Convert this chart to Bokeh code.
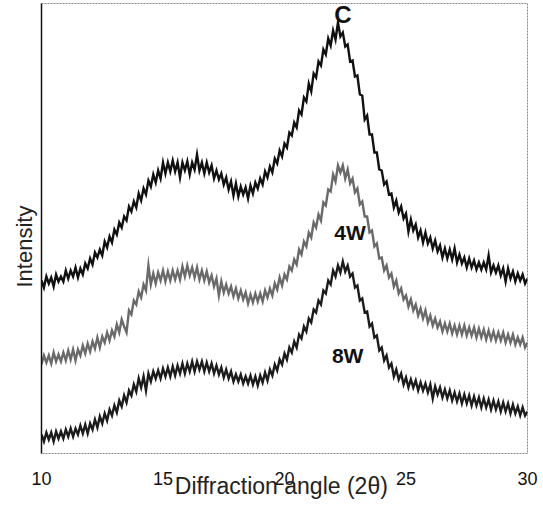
from bokeh.plotting import figure
from bokeh.models import Range1d, FixedTicker, Title
from bokeh.core.properties import value
from bokeh.embed import file_html
from bokeh.resources import INLINE

# 2-theta grid: 10.0 .. 30.0 in 0.1 degree steps
two_theta = [round(10 + 0.1 * i, 1) for i in range(201)]

# Intensity (arbitrary units, traces offset vertically)
intensity_c = [
    173, 166, 177, 170, 176, 167, 179, 172, 177, 172,
    183, 175, 183, 177, 186, 176, 185, 179, 190, 185,
    195, 189, 201, 196, 204, 198, 212, 206, 217, 211,
    224, 219, 231, 226, 237, 233, 247, 242, 252, 246,
    260, 253, 265, 259, 273, 267, 279, 271, 283, 275,
    291, 280, 291, 282, 293, 282, 291, 276, 291, 283,
    292, 279, 291, 284, 299, 283, 291, 280, 291, 281,
    288, 275, 283, 274, 280, 269, 276, 264, 272, 258,
    270, 257, 267, 259, 266, 255, 268, 260, 271, 265,
    275, 269, 282, 276, 287, 281, 295, 290, 303, 297,
    310, 306, 321, 318, 331, 326, 343, 339, 356, 352,
    370, 362, 380, 376, 392, 388, 404, 399, 415, 408,
    423, 414, 431, 417, 421, 407, 409, 392, 393, 377,
    378, 359, 358, 334, 338, 319, 319, 301, 301, 284,
    283, 269, 272, 259, 260, 246, 253, 241, 247, 235,
    240, 222, 234, 223, 229, 216, 223, 211, 221, 210,
    216, 205, 213, 202, 208, 196, 205, 195, 204, 194,
    205, 191, 199, 190, 196, 186, 195, 186, 193, 184,
    191, 184, 191, 184, 198, 181, 188, 181, 188, 178,
    185, 172, 185, 175, 182, 172, 180, 173, 179, 170,
    175,
]

intensity_4w = [
    89, 98, 91, 98, 90, 101, 92, 99, 92, 101,
    93, 103, 94, 104, 93, 104, 98, 108, 100, 110,
    102, 112, 105, 116, 106, 117, 111, 121, 113, 123,
    117, 129, 121, 134, 127, 121, 143, 139, 153, 149,
    162, 156, 169, 163, 188, 169, 180, 170, 181, 173,
    183, 172, 182, 173, 183, 174, 183, 174, 187, 177,
    188, 178, 186, 176, 186, 174, 183, 173, 182, 171,
    178, 167, 175, 158, 172, 161, 169, 160, 167, 157,
    165, 155, 163, 154, 161, 150, 159, 151, 160, 152,
    160, 152, 163, 156, 165, 158, 170, 164, 176, 168,
    179, 174, 187, 183, 194, 189, 204, 199, 212, 207,
    221, 216, 231, 226, 239, 233, 251, 248, 264, 262,
    279, 272, 288, 281, 288, 275, 284, 270, 275, 261,
    265, 249, 252, 237, 237, 221, 223, 207, 210, 195,
    196, 183, 188, 176, 180, 167, 173, 160, 165, 154,
    158, 147, 154, 143, 149, 138, 145, 135, 143, 131,
    138, 128, 135, 126, 132, 122, 130, 122, 130, 120,
    128, 119, 128, 119, 128, 118, 126, 118, 126, 116,
    125, 116, 124, 114, 123, 114, 122, 113, 121, 113,
    121, 111, 119, 111, 119, 109, 116, 109, 116, 106,
    111,
]

intensity_8w = [
    19, 12, 21, 14, 21, 12, 22, 15, 22, 15,
    24, 17, 25, 17, 25, 19, 28, 20, 29, 20,
    30, 24, 34, 26, 37, 30, 40, 33, 44, 38,
    48, 41, 53, 47, 58, 51, 63, 58, 69, 62,
    75, 66, 77, 63, 80, 72, 82, 75, 83, 75,
    85, 77, 86, 77, 87, 78, 88, 80, 90, 80,
    90, 82, 92, 82, 92, 84, 92, 82, 91, 82,
    90, 80, 88, 79, 86, 76, 84, 75, 82, 72,
    79, 72, 79, 70, 77, 70, 78, 69, 77, 68,
    78, 71, 81, 73, 84, 78, 89, 83, 94, 89,
    100, 94, 106, 101, 112, 106, 119, 115, 127, 122,
    135, 131, 144, 141, 153, 149, 163, 160, 173, 169,
    183, 177, 188, 181, 192, 182, 188, 177, 180, 166,
    168, 153, 155, 141, 142, 127, 130, 116, 118, 103,
    106, 93, 98, 86, 90, 77, 84, 74, 80, 69,
    76, 66, 74, 66, 73, 63, 71, 63, 70, 61,
    69, 55, 67, 59, 66, 56, 64, 55, 63, 53,
    61, 52, 60, 50, 59, 50, 58, 48, 57, 48,
    56, 46, 55, 46, 54, 44, 53, 44, 52, 42,
    51, 42, 50, 40, 49, 40, 47, 38, 46, 38,
    42,
]

series_names = ["C", "4W", "8W"]
x_ticks = [10, 15, 20, 25, 30]

p = figure(width=543, height=509, output_backend="svg", toolbar_location=None,
           x_range=Range1d(10, 30), y_range=Range1d(0, 450))
p.min_border_left = 41
p.min_border_right = 16
p.min_border_top = 3
p.min_border_bottom = 56
p.background_fill_color = "white"
p.border_fill_color = "white"
p.grid.visible = False
p.outline_line_color = "#888888"
p.outline_line_dash = "2 1"
p.outline_line_width = 1

colors = ["#111111", "#6a6a6a", "#1c1c1c"]
for ys, col in zip([intensity_c, intensity_4w, intensity_8w], colors):
    p.line(two_theta, ys, line_color=col, line_width=2.4, line_join="miter")

# labels next to the traces
p.text(x=[22.4], y=[439], text=series_names[:1],
       text_font=value("Liberation Sans"), text_font_size="24px",
       text_font_style="bold", text_align="center", text_baseline="middle",
       text_color="#111111")
p.text(x=[22.7, 22.6], y=[221, 98], text=series_names[1:],
       text_font=value("Liberation Sans"), text_font_size="21px",
       text_font_style="bold", text_align="center", text_baseline="middle",
       text_color="#111111")

# x axis
p.xaxis.ticker = FixedTicker(ticks=x_ticks)
p.xaxis.axis_line_color = None
p.xaxis.major_tick_line_color = None
p.xaxis.minor_tick_line_color = None
p.xaxis.major_label_text_font = "Liberation Sans"
p.xaxis.major_label_text_font_size = "18px"
p.xaxis.major_label_text_font_style = "normal"
p.xaxis.major_label_text_color = "#111111"
p.xaxis.major_label_standoff = 12
p.xaxis.axis_label = "Diffraction angle  (2θ)"
p.xaxis.axis_label_text_font = "Liberation Sans"
p.xaxis.axis_label_text_font_size = "23px"
p.xaxis.axis_label_text_font_style = "normal"
p.xaxis.axis_label_text_color = "#222222"
p.xaxis.axis_label_standoff = -15

# y axis: plain line, label as a side title shifted up from the bottom
p.yaxis.ticker = FixedTicker(ticks=[])
p.yaxis.axis_line_color = "#111111"
p.yaxis.axis_line_width = 1.5
p.yaxis.major_tick_line_color = None
p.yaxis.minor_tick_line_color = None
p.add_layout(Title(text="Intensity", align="left", offset=166,
                   text_font="Liberation Sans", text_font_size="22px",
                   text_font_style="normal", text_color="#222222",
                   standoff=9), "left")

open("out.html", "w").write(file_html(p, INLINE))
